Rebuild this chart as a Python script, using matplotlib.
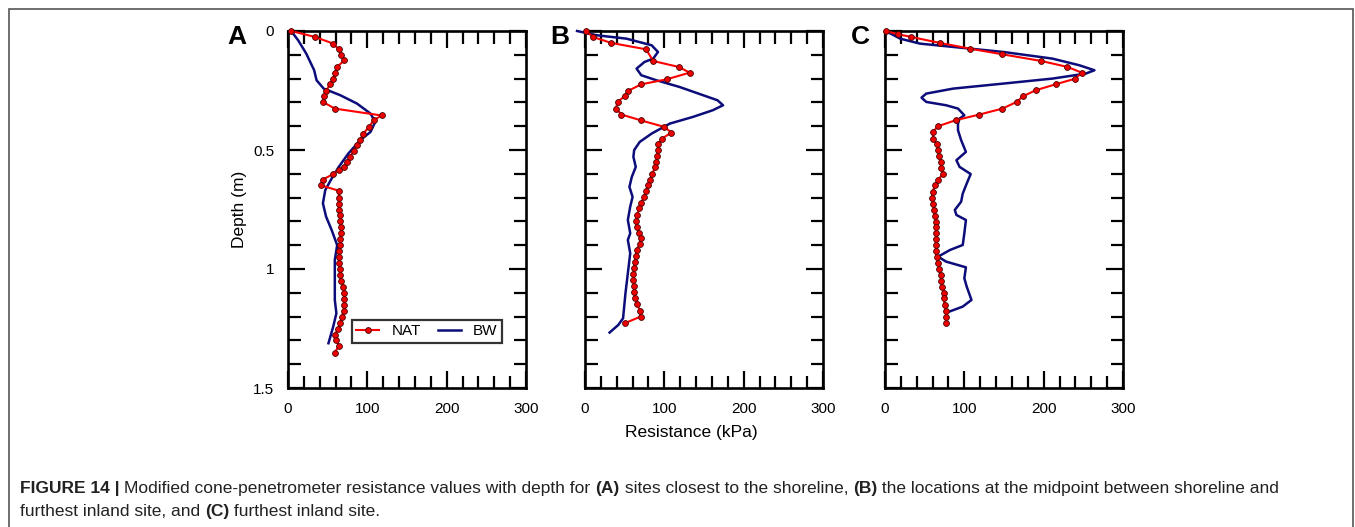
import numpy as np
import matplotlib
matplotlib.use("Agg")
import matplotlib.pyplot as plt
from matplotlib.ticker import MultipleLocator, FormatStrFormatter
from matplotlib.patches import Rectangle

plt.rcParams['font.family'] = ['Liberation Sans', 'DejaVu Sans']

# ---- data ----
# panel A - sites closest to shoreline
a_nat_depth = [0.0, 0.025, 0.053, 0.077, 0.099, 0.123, 0.151, 0.175, 0.2, 0.224, 0.252, 0.274,
               0.298, 0.326, 0.355, 0.375, 0.403, 0.431, 0.456, 0.48, 0.503, 0.529, 0.55, 0.571,
               0.585, 0.601, 0.624, 0.648, 0.671, 0.7, 0.725, 0.75, 0.775, 0.8, 0.825, 0.85,
               0.875, 0.9, 0.925, 0.95, 0.975, 1.0, 1.025, 1.05, 1.075, 1.1, 1.125, 1.15,
               1.175, 1.2, 1.225, 1.25, 1.277, 1.3, 1.323, 1.351]
a_nat_kpa = [4, 34, 57, 64, 67, 71, 62, 59, 57, 53, 48, 45,
             44, 59, 118, 108, 102, 95, 91, 87, 83, 78, 74, 70,
             64, 57, 44, 41, 64, 64, 64, 64, 65, 66, 67, 67,
             66, 65, 64, 64, 64, 65, 66, 67, 69, 71, 71, 71,
             70, 68, 66, 63, 59, 61, 64, 59]
a_bw_depth = [0.0, 0.04, 0.095, 0.165, 0.207, 0.242, 0.27, 0.305, 0.347, 0.382, 0.424, 0.459,
              0.515, 0.571, 0.62, 0.668, 0.724, 0.78, 0.836, 0.9, 0.962, 1.046, 1.13, 1.186,
              1.242, 1.312]
a_bw_kpa = [4, 13, 23, 33, 36, 45, 66, 87, 104, 110, 104, 91,
            76, 64, 55, 47, 44, 48, 55, 62, 59, 59, 59, 61,
            57, 51]

# panel B - midpoint between shoreline and furthest inland site
b_nat_depth = [0.0, 0.025, 0.05, 0.077, 0.126, 0.151, 0.175, 0.203, 0.224, 0.252, 0.274, 0.298,
               0.326, 0.351, 0.375, 0.403, 0.427, 0.452, 0.476, 0.5, 0.526, 0.55, 0.573, 0.6,
               0.624, 0.648, 0.671, 0.697, 0.722, 0.745, 0.773, 0.797, 0.822, 0.848, 0.871,
               0.895, 0.92, 0.945, 0.969, 0.997, 1.021, 1.046, 1.071, 1.095, 1.123, 1.147,
               1.175, 1.2, 1.228]
b_nat_kpa = [1, 10, 33, 77, 86, 118, 132, 103, 71, 54, 50, 41,
             39, 46, 70, 100, 109, 97, 92, 92, 91, 90, 88, 85,
             82, 79, 77, 74, 71, 68, 66, 64, 65, 68, 70,
             69, 65, 64, 63, 62, 61, 61, 62, 62, 63, 66,
             69, 70, 50]
b_bw_depth = [0.0, 0.018, 0.032, 0.06, 0.088, 0.116, 0.13, 0.158, 0.186, 0.207, 0.235, 0.27,
              0.291, 0.312, 0.333, 0.361, 0.389, 0.431, 0.466, 0.5, 0.529, 0.571, 0.613, 0.655,
              0.697, 0.738, 0.794, 0.85, 0.878, 0.934, 1.018, 1.102, 1.172, 1.207, 1.235, 1.267]
b_bw_kpa = [-10, 15, 52, 84, 92, 86, 75, 65, 71, 90, 119, 149,
            167, 174, 161, 136, 107, 84, 69, 62, 61, 64, 59, 56,
            60, 57, 54, 57, 54, 57, 54, 51, 49, 48, 42, 31]

# panel C - furthest inland site
c_nat_depth = [0.0, 0.014, 0.025, 0.05, 0.074, 0.098, 0.126, 0.151, 0.175, 0.2, 0.224, 0.249,
               0.274, 0.298, 0.326, 0.351, 0.375, 0.4, 0.424, 0.452, 0.476, 0.5, 0.526, 0.55,
               0.575, 0.601, 0.624, 0.648, 0.676, 0.703, 0.727, 0.752, 0.778, 0.801, 0.825,
               0.85, 0.876, 0.899, 0.923, 0.951, 0.976, 1.001, 1.025, 1.05, 1.074, 1.099,
               1.123, 1.151, 1.175, 1.2, 1.225]
c_nat_kpa = [1, 17, 33, 69, 107, 148, 197, 230, 248, 240, 215, 190,
             174, 166, 148, 119, 89, 67, 60, 61, 65, 67, 68, 70,
             71, 73, 67, 63, 60, 59, 61, 62, 63, 64, 64,
             64, 64, 64, 64, 65, 67, 68, 70, 71, 72, 74,
             74, 75, 77, 77, 77]
c_bw_depth = [0.0, 0.032, 0.053, 0.067, 0.088, 0.116, 0.144, 0.165, 0.179, 0.2, 0.221, 0.242,
              0.263, 0.28, 0.298, 0.312, 0.326, 0.34, 0.354, 0.368, 0.389, 0.417, 0.459, 0.508,
              0.543, 0.571, 0.601, 0.641, 0.683, 0.717, 0.752, 0.773, 0.794, 0.85, 0.899, 0.92,
              0.948, 0.969, 0.993, 1.039, 1.074, 1.102, 1.13, 1.158, 1.179]
c_bw_kpa = [1, 19, 44, 86, 149, 211, 245, 264, 253, 211, 149, 86,
            52, 46, 52, 77, 92, 96, 100, 94, 92, 92, 96, 102,
            90, 94, 108, 103, 98, 96, 88, 90, 102, 100, 98, 82,
            67, 77, 102, 100, 103, 106, 109, 98, 81]

panels = [
    ("A", a_nat_depth, a_nat_kpa, a_bw_depth, a_bw_kpa),
    ("B", b_nat_depth, b_nat_kpa, b_bw_depth, b_bw_kpa),
    ("C", c_nat_depth, c_nat_kpa, c_bw_depth, c_bw_kpa),
]
x_ticks = [0, 100, 200, 300]
y_ticks = [0, 0.5, 1, 1.5]

W, H = 1355, 527
fig = plt.figure(figsize=(W / 100, H / 100), dpi=100)

# outer frame of the figure page
fig.patches.append(Rectangle((9 / W, -0.01), (1353 - 9) / W, 1 - 9 / H + 0.01,
                             transform=fig.transFigure, fill=False,
                             edgecolor='#555555', linewidth=1.2))

lefts = [288, 585, 885]
label_x = [237, 560, 860]
ax_w = 238
ax_top, ax_bot = 31, 388

for i, (lab, nd, nk, bd, bk) in enumerate(panels):
    ax = fig.add_axes([lefts[i] / W, 1 - ax_bot / H, ax_w / W, (ax_bot - ax_top) / H])
    ax.plot(nk, nd, color='#ff0000', lw=1.5, marker='o', ms=4.2,
            mfc='#ee0000', mec='#4a0000', mew=0.6, label='NAT', zorder=3, clip_on=False)
    ax.plot(bk, bd, color='#0c0c7a', lw=1.8, label='BW', zorder=2, clip_on=False)

    ax.set_xlim(0, 300)
    ax.set_ylim(1.5, 0)
    ax.xaxis.set_major_locator(MultipleLocator(100))
    ax.xaxis.set_minor_locator(MultipleLocator(20))
    ax.yaxis.set_major_locator(MultipleLocator(0.5))
    ax.yaxis.set_minor_locator(MultipleLocator(0.1))
    ax.set_xticks(x_ticks)
    ax.tick_params(which='both', direction='in', top=True, right=True, width=1.6,
                   labelsize=11, pad=10)
    ax.tick_params(which='major', length=12.5)
    ax.tick_params(which='minor', length=9)
    for s in ax.spines.values():
        s.set_linewidth(1.9)
    if i == 0:
        ax.set_yticks(y_ticks)
        ax.yaxis.set_major_formatter(FormatStrFormatter('%g'))
        ax.set_ylabel('Depth (m)', fontsize=12.5, labelpad=4)
        leg = ax.legend(loc='lower right', bbox_to_anchor=(0.899, 0.126), ncol=2,
                        fontsize=11, frameon=True, fancybox=False, handlelength=1.5,
                        columnspacing=1.1, handletextpad=0.8, borderpad=0.3,
                        borderaxespad=0.0)
        leg.get_frame().set_edgecolor('black')
        leg.get_frame().set_linewidth(1.6)
    else:
        ax.tick_params(labelleft=False)
    fig.text(label_x[i] / W, 1 - 37 / H, lab, fontsize=19, fontweight='bold',
             ha='center', va='center')

fig.text(691 / W, 1 - 432 / H, 'Resistance (kPa)', fontsize=12.5, ha='center', va='center')

# caption with bold pieces
caption = [
    [("FIGURE 14 | ", 'bold'), ("Modified cone-penetrometer resistance values with depth for ", 'normal'),
     ("(A)", 'bold'), (" sites closest to the shoreline, ", 'normal'), ("(B)", 'bold'),
     (" the locations at the midpoint between shoreline and", 'normal')],
    [("furthest inland site, and ", 'normal'), ("(C)", 'bold'), (" furthest inland site.", 'normal')],
]
renderer = fig.canvas.get_renderer()
for row, y in zip(caption, [493, 516]):
    x = 20
    for txt, wt in row:
        t = fig.text(x / W, 1 - y / H, txt, fontsize=12.5, fontweight=wt,
                     ha='left', va='baseline', color='#222222')
        bb = t.get_window_extent(renderer)
        x += bb.width

fig.savefig('out.png', dpi=100)
